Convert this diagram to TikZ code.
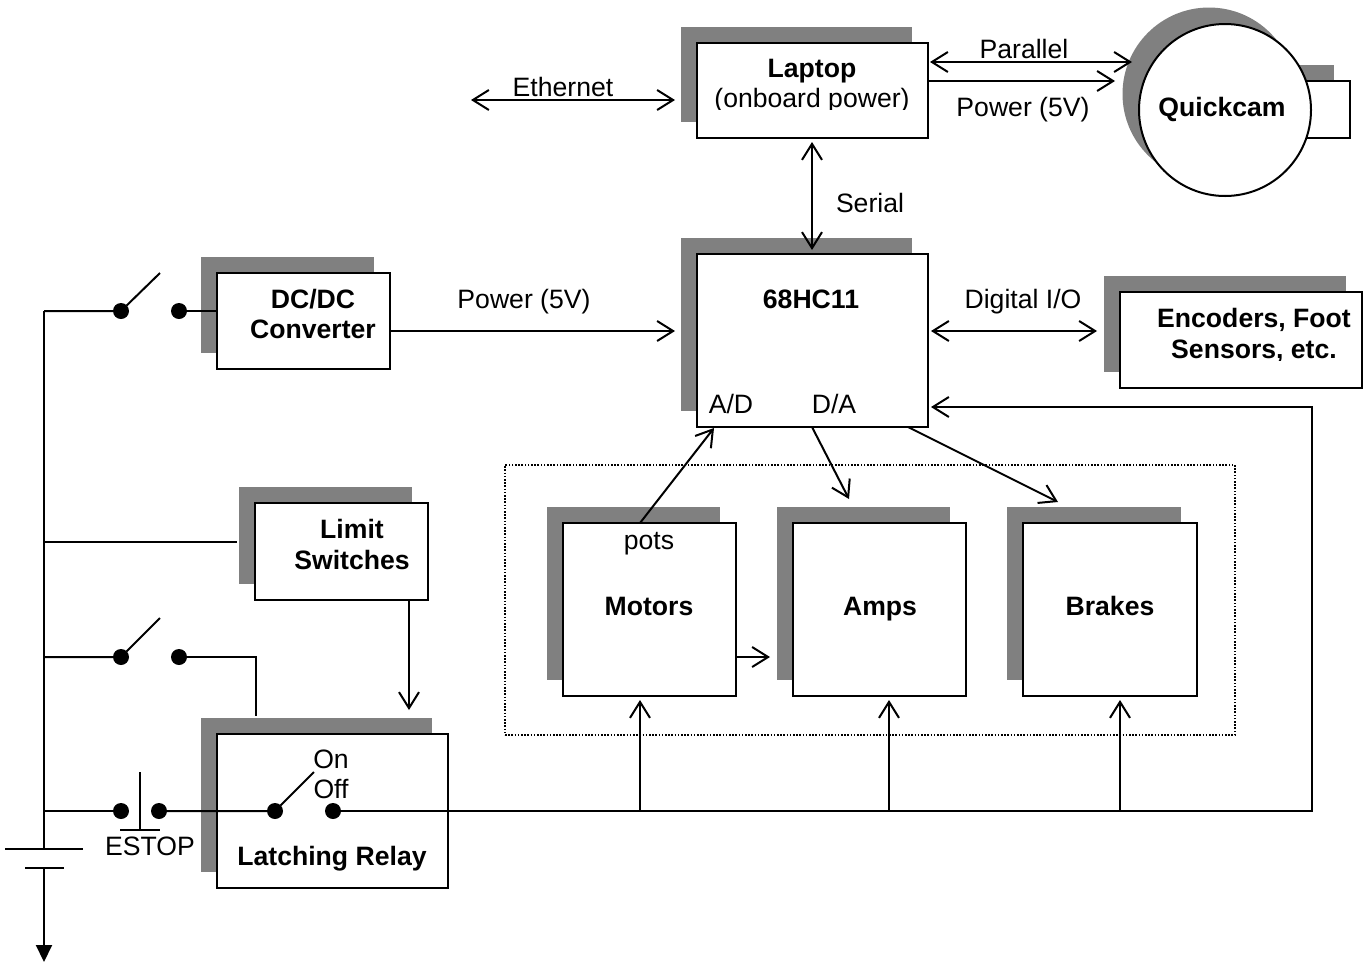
\documentclass[tikz,border=0pt]{standalone}
\usepackage{fontspec}
\setmainfont{Liberation Sans}
\usetikzlibrary{arrows.meta}
\definecolor{shade}{gray}{0.5}
\tikzset{
  x=1pt,y=-1pt,
  wire/.style={line width=2pt,draw=black},
  barb/.style={wire,-{Straight Barb[length=16pt,width=20pt,line width=2pt]}},
  dbarb/.style={wire,{Straight Barb[length=16pt,width=20pt,line width=2pt]}-{Straight Barb[length=16pt,width=20pt,line width=2pt]}},
  box/.style={draw=black,fill=white,line width=2pt,rectangle,inner sep=0pt,outer sep=0pt},
  shadow/.style={fill=shade,draw=none,rectangle,inner sep=0pt,outer sep=0pt},
  lbl/.style={anchor=base,inner sep=0pt,font=\fontsize{26.6}{30}\selectfont},
  blbl/.style={anchor=base,inner sep=0pt,font=\fontsize{26.6}{30}\selectfont\bfseries},
  dot/.style={circle,fill=black,draw=none,minimum size=16pt,inner sep=0pt,outer sep=0pt},
  terminal/.style={dot},
}
\newcommand{\shbox}[5]{% name, x1, y1, x2, y2
  \node[shadow,minimum width={#4-#2},minimum height={#5-#3}] (#1s) at ({(#2+#4)/2-16},{(#3+#5)/2-16}) {};
  \node[box,minimum width={#4-#2},minimum height={#5-#3}] (#1) at ({(#2+#4)/2},{(#3+#5)/2}) {};
}
\begin{document}
\begin{tikzpicture}
\useasboundingbox (0,0) rectangle (1363,962);
% dotted frame
\node[draw=black,line width=1.4pt,dash pattern=on 1.6pt off 1.6pt,rectangle,minimum width=730pt,minimum height=270pt,inner sep=0pt,outer sep=0pt] (frame) at (870,600) {};
% boxes
\shbox{laptop}{697}{43}{928}{138}
\shbox{hc}{697}{254}{928}{427}
\shbox{enc}{1120}{292}{1362}{388}
\shbox{dcdc}{217}{273}{390}{369}
\shbox{limit}{255}{503}{428}{600}
\shbox{motors}{563}{523}{736}{696}
\shbox{amps}{793}{523}{966}{696}
\shbox{brakes}{1023}{523}{1197}{696}
\shbox{relay}{217}{734}{448}{888}
% quickcam
\node[shadow,minimum width=44pt,minimum height=57pt] (lenss) at (1312,93.5) {};
\node[box,minimum width=50pt,minimum height=57pt] (lens) at (1325,109.5) {};
\node[circle,fill=shade,inner sep=0pt,outer sep=0pt,minimum size=173pt] (cams) at (1209,94) {};
\node[circle,draw=black,fill=white,line width=2pt,inner sep=0pt,outer sep=0pt,minimum size=172pt] (cam) at (1225,110) {};
% free ends
\coordinate (ethL) at (471,100);
\coordinate (ethR) at (675,100);
\coordinate (parL) at (930,62);
\coordinate (parR) at (1132,62);
\coordinate (pwrL) at (928,81);
\coordinate (pwrR) at (1115,81);
\coordinate (serT) at (812,142);
\coordinate (serB) at (812,250);
\coordinate (dcR) at (390,331);
\coordinate (dcT) at (675,331);
\coordinate (dioL) at (931,331);
\coordinate (dioR) at (1097,331);
\coordinate (potS) at (640,523);
\coordinate (potT) at (714,428);
\coordinate (daS) at (812,427);
\coordinate (daT) at (849,499);
\coordinate (brS) at (908,427);
\coordinate (brT) at (1058,502);
\coordinate (maS) at (736,657);
\coordinate (maT) at (770,657);
\coordinate (limS) at (409,600);
\coordinate (limT) at (409,710);
\coordinate (retC) at (1312,811);
\coordinate (retU) at (1312,407);
\coordinate (retT) at (931,407);
\coordinate (m0) at (640,811);
\coordinate (m1) at (640,700);
\coordinate (a0) at (889,811);
\coordinate (a1) at (889,700);
\coordinate (b0) at (1120,811);
\coordinate (b1) at (1120,700);
% bus
\coordinate (busT) at (44,311);
\coordinate (busL) at (44,542);
\coordinate (busS) at (44,657);
\coordinate (busE) at (44,811);
\coordinate (busB) at (44,849);
\coordinate (batU) at (44,868);
\coordinate (gnd) at (44,962);
\coordinate (p1a) at (5,849);
\coordinate (p1b) at (83,849);
\coordinate (p2a) at (25,868);
\coordinate (p2b) at (64,868);
\coordinate (limE) at (237,542);
\coordinate (s1arm) at (160,273);
\coordinate (s2arm) at (160,618);
\coordinate (s3arm) at (314,772);
\coordinate (s2c) at (256,657);
\coordinate (s2e) at (256,716);
\coordinate (dcW) at (217,311);
\coordinate (eT) at (140,772);
\coordinate (eB) at (140,830);
\coordinate (eL) at (120,830);
\coordinate (eR) at (160,830);
% terminals
\node[terminal] (s1a) at (121,311) {};
\node[terminal] (s1b) at (179,311) {};
\node[terminal] (s2a) at (121,657) {};
\node[terminal] (s2b) at (179,657) {};
\node[terminal] (e1) at (121,811) {};
\node[terminal] (e2) at (159,811) {};
\node[terminal] (r1) at (275,811) {};
\node[terminal] (r2) at (333,811) {};
% connectors
\draw[dbarb] (ethL) -- (ethR);
\draw[dbarb] (parL) -- (parR);
\draw[barb] (pwrL) -- (pwrR);
\draw[dbarb] (serT) -- (serB);
\draw[barb] (dcR) -- (dcT);
\draw[dbarb] (dioL) -- (dioR);
\draw[barb] (potS) -- (potT);
\draw[barb] (daS) -- (daT);
\draw[barb] (brS) -- (brT);
\draw[barb] (maS) -- (maT);
\draw[barb] (limS) -- (limT);
\draw[barb] (r2) -- (retC) -- (retU) -- (retT);
\draw[barb] (m0) -- (m1);
\draw[barb] (a0) -- (a1);
\draw[barb] (b0) -- (b1);
\draw[wire] (busT) -- (busB);
\draw[wire] (p1a) -- (p1b);
\draw[wire] (p2a) -- (p2b);
\draw[wire,-{Triangle[length=17pt,width=16pt]}] (batU) -- (gnd);
\draw[wire] (busT) -- (s1a) -- (s1arm);
\draw[wire] (s1b) -- (dcW);
\draw[wire] (busL) -- (limE);
\draw[wire] (busS) -- (s2a) -- (s2arm);
\draw[wire] (s2b) -- (s2c) -- (s2e);
\draw[wire] (busE) -- (e1);
\draw[wire] (e2) -- (r1) -- (s3arm);
\draw[wire] (eT) -- (eB);
\draw[wire] (eL) -- (eR);
% text
\node[blbl] (t1) at (812,77) {Laptop};
\begin{scope}
\clip (697,85) rectangle (928,109.5);
\node[lbl] (t2) at (812,107) {(onboard power)};
\end{scope}
\node[blbl] (t3) at (1222,116) {Quickcam};
\node[blbl] (t4) at (811,308) {68HC11};
\node[lbl] (t5) at (731,413) {A/D};
\node[lbl] (t6) at (834,413) {D/A};
\node[blbl] (t7) at (313,308) {DC/DC};
\node[blbl] (t8) at (313,338) {Converter};
\node[blbl] (t9) at (1254,327) {Encoders, Foot};
\begin{scope}
\clip (1130,335) rectangle (1355,360.5);
\node[blbl] (t10) at (1254,358) {Sensors, etc.};
\end{scope}
\node[blbl] (t11) at (352,538) {Limit};
\node[blbl] (t12) at (352,569) {Switches};
\node[lbl] (t13) at (649,549) {pots};
\node[blbl] (t14) at (649,615) {Motors};
\node[blbl] (t15) at (880,615) {Amps};
\node[blbl] (t16) at (1110,615) {Brakes};
\node[blbl] (t17) at (332,865) {Latching Relay};
\node[lbl] (t18) at (331,768) {On};
\node[lbl] (t19) at (331,798) {Off};
\node[lbl] (t20) at (150,855) {ESTOP};
\node[lbl] (t21) at (563,96) {Ethernet};
\node[lbl] (t22) at (1024,58) {Parallel};
\node[lbl] (t23) at (1023,116) {Power (5V)};
\node[lbl] (t24) at (870,212) {Serial};
\node[lbl] (t25) at (524,308) {Power (5V)};
\node[lbl] (t26) at (1023,308) {Digital I/O};
\end{tikzpicture}
\end{document}
